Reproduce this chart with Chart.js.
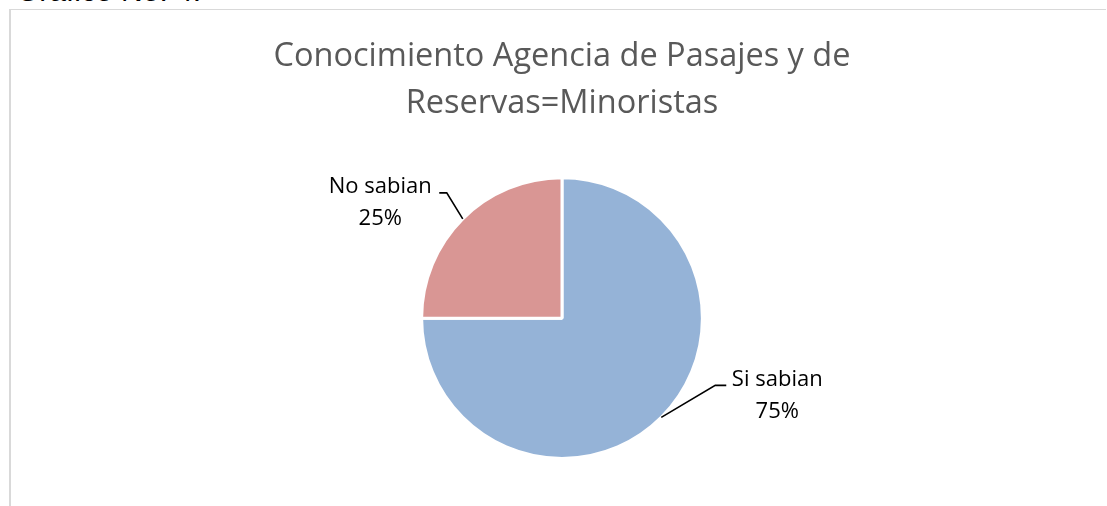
<!DOCTYPE html>
<html>
<head>
<meta charset="utf-8">
<script src="https://cdn.jsdelivr.net/npm/chart.js@4/dist/chart.umd.min.js"></script>
<style>
  html, body { margin: 0; padding: 0; background: #ffffff; }
  #wrap { position: relative; width: 1107px; height: 506px; overflow: hidden; background: #fff; }
  #frame { position: absolute; left: 9px; top: 9px; width: 1097px; height: 520px;
           border-left: 2px solid #d9d9d9; border-top: 1px solid #d9d9d9; box-sizing: border-box; }
  #caption { position: absolute; left: 16px; top: -26px; font-family: "Liberation Sans", Arial, sans-serif;
             font-size: 30px; line-height: 34px; color: #000; white-space: nowrap; }
  canvas { position: absolute; left: 0; top: 0; }
</style>
</head>
<body>
<div id="wrap">
  <div id="caption">Grafico No. 4.</div>
  <div id="frame"></div>
  <canvas id="c" width="1107" height="506"></canvas>
</div>
<script>
// ---- data ----
const titleLines = ["Conocimiento Agencia de Pasajes y de", "Reservas=Minoristas"];
const categories = ["Si sabian", "No sabian"];
const values = [75, 25];
const percentLabels = ["75%", "25%"];
const sliceColors = ["#95b3d7", "#d99694"];

// label styling: leader elbow / label offsets (style only)
const labelStyle = [
  { elbow: [54, -32], tail: 11, text: [51, 1] },    // Si sabian (right side)
  { elbow: [-16, -26], tail: -7.5, text: [-59, 0] } // No sabian (left side)
];

const pieLabels = {
  id: 'pieLabels',
  afterDatasetsDraw(chart) {
    const ctx = chart.ctx;
    const meta = chart.getDatasetMeta(0);
    meta.data.forEach((arc, i) => {
      const p = arc.getProps(['x', 'y', 'startAngle', 'endAngle', 'outerRadius'], true);
      const mid = (p.startAngle + p.endAngle) / 2;
      const r = p.outerRadius;
      const ex = p.x + Math.cos(mid) * r;
      const ey = p.y + Math.sin(mid) * r;
      const st = labelStyle[i];
      const bx = ex + st.elbow[0], by = ey + st.elbow[1];
      const tx = bx + st.tail;
      ctx.save();
      ctx.strokeStyle = '#000';
      ctx.lineWidth = 1.6;
      ctx.beginPath();
      ctx.moveTo(ex, ey);
      ctx.lineTo(bx, by);
      ctx.lineTo(tx, by);
      ctx.stroke();
      ctx.fillStyle = '#000';
      ctx.font = '22px "Open Sans", sans-serif';
      ctx.textAlign = 'center';
      ctx.textBaseline = 'alphabetic';
      const lx = tx + st.text[0];
      const ly = by + st.text[1];
      ctx.fillText(categories[i], lx, ly);
      ctx.fillText(percentLabels[i], lx, ly + 32);
      ctx.restore();
    });
  }
};

new Chart(document.getElementById('c'), {
  type: 'pie',
  data: {
    labels: categories,
    datasets: [{
      data: values,
      backgroundColor: sliceColors,
      borderColor: '#ffffff',
      borderWidth: 3
    }]
  },
  options: {
    responsive: false,
    animation: false,
    rotation: 0,
    layout: { padding: { left: 17, right: 0, top: 0, bottom: 46 } },
    plugins: {
      legend: { display: false },
      tooltip: { enabled: false },
      title: {
        display: true,
        text: titleLines,
        color: '#595959',
        font: { family: '"Open Sans", sans-serif', size: 32.5, weight: 'normal', lineHeight: 1.45 },
        padding: { top: 33.5, bottom: 48.5 }
      }
    }
  },
  plugins: [pieLabels]
});
</script>
</body>
</html>
